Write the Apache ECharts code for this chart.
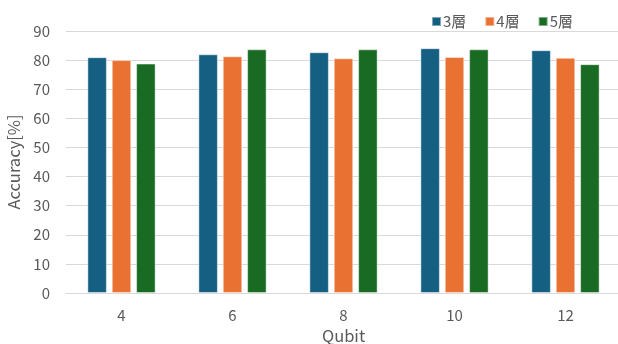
<!DOCTYPE html>
<html>
<head>
<meta charset="utf-8">
<script src="https://cdn.jsdelivr.net/npm/echarts@6/dist/echarts.min.js"></script>
<style>html,body{margin:0;padding:0;background:#fff}#c{width:618px;height:344px}</style>
</head>
<body>
<div id="c"></div>
<script>
const categories = ['4', '6', '8', '10', '12'];
const seriesNames = ['3層', '4層', '5層'];
const layer3 = [81.0, 82.0, 82.7, 84.1, 83.4];
const layer4 = [80.0, 81.3, 80.6, 81.1, 80.8];
const layer5 = [78.8, 83.7, 83.7, 83.7, 78.6];
const colors = ['#156082', '#E97132', '#196B24'];
const font = '"Noto Sans CJK JP", "Noto Sans", sans-serif';

const chart = echarts.init(document.getElementById('c'));
const mk = (name, data, color) => ({
  name, type: 'bar', data, barWidth: 19.5, barGap: '25%',
  itemStyle: { color, borderColor: 'rgba(255,255,255,0.45)', borderWidth: 1 },
  emphasis: { disabled: true }
});
chart.setOption({
  animation: false,
  textStyle: { fontFamily: font },
  color: colors,
  legend: {
    left: 431, top: 14, padding: 0, itemWidth: 9, itemHeight: 9, itemGap: 18,
    icon: 'rect',
    textStyle: { color: '#595959', fontSize: 15, fontFamily: font, padding: [0, 0, 0, -3] },
    data: seriesNames
  },
  grid: { left: 66, top: 31, width: 555, bottom: 51, containLabel: false, outerBoundsMode: 'none' },
  xAxis: {
    type: 'category', data: categories,
    name: 'Qubit', nameLocation: 'middle', nameGap: 32,
    nameTextStyle: { color: '#595959', fontSize: 16.5, fontFamily: font },
    axisLine: { lineStyle: { color: '#d9d9d9', width: 1 } },
    axisTick: { show: false },
    axisLabel: { color: '#595959', fontSize: 15, margin: 15, fontFamily: font }
  },
  yAxis: {
    type: 'value', min: 0, max: 90, interval: 10,
    name: 'Accuracy[%]', nameLocation: 'middle', nameGap: 39,
    nameTextStyle: { color: '#595959', fontSize: 16.5, fontFamily: font },
    axisLine: { show: false }, axisTick: { show: false },
    axisLabel: { color: '#595959', fontSize: 15, margin: 16, fontFamily: font },
    splitLine: { lineStyle: { color: '#d9d9d9', width: 1 } }
  },
  series: [
    mk(seriesNames[0], layer3, colors[0]),
    mk(seriesNames[1], layer4, colors[1]),
    mk(seriesNames[2], layer5, colors[2])
  ]
});
</script>
</body>
</html>
